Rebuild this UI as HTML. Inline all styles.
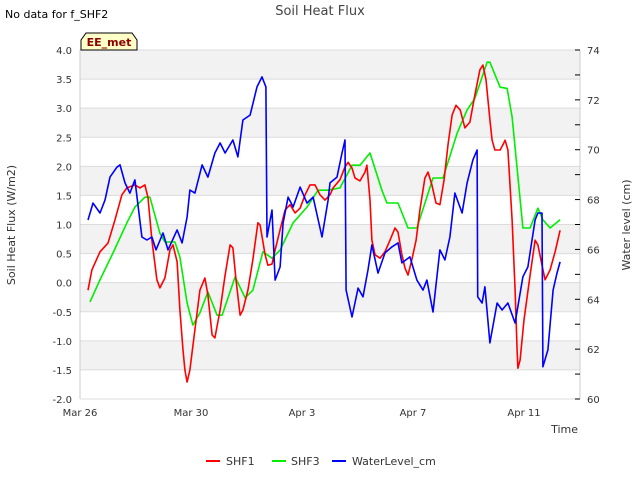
<!DOCTYPE html>
<html><head><meta charset="utf-8"><style>
body{margin:0;background:#fff;font-family:"Liberation Sans","DejaVu Sans",sans-serif}
svg text{font-family:"DejaVu Sans","Liberation Sans",sans-serif}
</style></head><body>
<svg id="chart" width="640" height="480" xmlns="http://www.w3.org/2000/svg">
<text x="5" y="18" font-size="11" fill="#000">No data for f_SHF2</text>
<text x="320" y="15" font-size="13" fill="#444" text-anchor="middle">Soil Heat Flux</text>
<g id="bands"></g>
<g id="axes"></g>
<g id="series"></g>
<path d="M81,50 L81,40 L86,33 L132,33 L137,40 L137,50 Z" fill="#ffffc8" stroke="#000" stroke-width="1"/>
<text x="109" y="46" font-size="11" font-weight="bold" fill="#8b0000" text-anchor="middle">EE_met</text>
<text x="15" y="225" font-size="11" fill="#333" text-anchor="middle" transform="rotate(-90 15 225)">Soil Heat Flux (W/m2)</text>
<text x="630" y="225" font-size="11" fill="#333" text-anchor="middle" transform="rotate(-90 630 225)">Water level (cm)</text>
<text x="578" y="433" font-size="11" fill="#333" text-anchor="end">Time</text>
<g>
<line x1="206" y1="461" x2="220" y2="461" stroke="#ff0000" stroke-width="2"/>
<text x="226" y="465" font-size="11" fill="#333">SHF1</text>
<line x1="272" y1="461" x2="286" y2="461" stroke="#00ee00" stroke-width="2"/>
<text x="291" y="465" font-size="11" fill="#333">SHF3</text>
<line x1="332" y1="461" x2="346" y2="461" stroke="#0000ff" stroke-width="2"/>
<text x="352" y="465" font-size="11" fill="#333">WaterLevel_cm</text>
</g>
</svg>
<script>
const xTickLabels=["Mar 26","Mar 30","Apr 3","Apr 7","Apr 11"];
const xTickDays=[0,4,8,12,16];
const yTicks=[-2,-1.5,-1,-0.5,0,0.5,1,1.5,2,2.5,3,3.5,4];
const y2Ticks=[60,62,64,66,68,70,72,74];
const shf1Days=[0.29,0.43,0.72,1.01,1.26,1.51,1.69,1.98,2.16,2.34,2.45,2.59,2.77,2.88,3.06,3.24,3.35,3.5,3.6,3.71,3.78,3.86,3.96,4.14,4.32,4.5,4.61,4.76,4.86,5.05,5.23,5.41,5.51,5.62,5.77,5.87,6.05,6.23,6.41,6.49,6.67,6.77,6.92,7.03,7.21,7.39,7.57,7.75,7.93,8.11,8.29,8.47,8.65,8.83,9.01,9.12,9.37,9.55,9.66,9.8,9.91,10.09,10.27,10.34,10.45,10.52,10.63,10.81,10.99,11.17,11.35,11.46,11.6,11.71,11.82,11.96,12.11,12.25,12.43,12.54,12.68,12.83,12.97,13.12,13.26,13.41,13.55,13.7,13.87,14.05,14.23,14.41,14.52,14.63,14.77,14.85,14.95,15.14,15.24,15.32,15.42,15.57,15.68,15.75,15.78,15.86,16.0,16.22,16.4,16.5,16.65,16.76,16.94,17.12,17.3];
const shf1Values=[-0.13,0.22,0.53,0.68,1.08,1.51,1.63,1.68,1.63,1.68,1.46,0.73,0.05,-0.09,0.08,0.56,0.65,0.36,-0.47,-1.16,-1.5,-1.71,-1.5,-0.81,-0.13,0.08,-0.21,-0.9,-0.95,-0.47,0.13,0.65,0.6,0.05,-0.56,-0.47,-0.13,0.4,1.03,0.99,0.48,0.3,0.32,0.56,0.91,1.25,1.34,1.2,1.28,1.51,1.68,1.68,1.51,1.42,1.51,1.63,1.77,1.99,2.07,1.97,1.8,1.75,1.9,2.02,1.42,0.73,0.48,0.42,0.53,0.73,0.94,0.87,0.48,0.25,0.13,0.4,0.73,1.25,1.8,1.9,1.68,1.37,1.34,1.77,2.37,2.88,3.05,2.97,2.66,2.76,3.23,3.66,3.74,3.49,2.8,2.45,2.28,2.28,2.37,2.45,2.28,1.08,-0.13,-1.16,-1.47,-1.33,-0.64,0.13,0.73,0.65,0.3,0.05,0.22,0.53,0.9];
const shf3Days=[0.36,0.72,1.19,1.69,1.98,2.34,2.52,2.88,3.06,3.42,3.6,3.86,4.07,4.32,4.61,4.94,5.12,5.59,5.95,6.23,6.59,6.92,7.21,7.68,8.18,8.58,8.94,9.37,9.8,10.09,10.45,10.88,11.06,11.46,11.82,12.14,12.72,13.08,13.59,13.95,14.23,14.67,14.77,15.14,15.39,15.57,15.96,16.22,16.5,16.68,16.94,17.3];
const shf3Values=[-0.33,0.05,0.51,1.03,1.3,1.47,1.47,0.85,0.7,0.7,0.44,-0.35,-0.73,-0.52,-0.16,-0.56,-0.56,0.1,-0.26,-0.13,0.53,0.42,0.56,1.03,1.3,1.59,1.59,1.63,2.02,2.02,2.23,1.59,1.37,1.37,0.94,0.94,1.8,1.8,2.57,2.97,3.17,3.79,3.79,3.36,3.34,2.85,0.94,0.94,1.28,1.08,0.94,1.08];
const waterDays=[0.29,0.47,0.72,0.9,1.08,1.33,1.44,1.62,1.8,1.98,2.23,2.41,2.59,2.74,2.99,3.17,3.5,3.68,3.86,3.96,4.14,4.4,4.61,4.86,5.05,5.23,5.51,5.69,5.87,6.13,6.38,6.56,6.7,6.74,6.92,7.03,7.21,7.32,7.5,7.68,7.93,8.18,8.4,8.72,8.94,9.01,9.26,9.44,9.55,9.59,9.8,10.02,10.2,10.38,10.52,10.74,10.99,11.24,11.46,11.6,11.89,12.14,12.36,12.5,12.72,12.97,13.15,13.33,13.51,13.77,13.95,14.16,14.31,14.33,14.49,14.59,14.77,15.03,15.21,15.42,15.68,15.96,16.14,16.4,16.5,16.65,16.68,16.86,17.05,17.19,17.3];
const waterValues=[67.18,67.86,67.46,67.98,68.9,69.3,69.39,68.67,68.26,68.79,66.5,66.38,66.5,65.98,66.66,65.98,66.78,66.26,67.3,68.38,68.26,69.39,68.9,69.87,70.27,69.87,70.39,69.71,71.19,71.39,72.52,72.92,72.52,66.5,67.58,64.77,65.3,67.06,68.1,67.7,68.5,67.86,68.1,66.5,67.98,68.67,68.9,69.87,70.39,64.37,63.29,64.45,64.1,65.18,66.18,65.05,65.86,66.1,66.26,65.46,65.7,64.77,64.37,64.77,63.49,65.98,65.58,66.5,68.26,67.46,68.67,69.59,69.99,64.1,63.85,64.5,62.25,63.85,63.57,63.85,63.05,64.9,65.3,67.18,67.46,67.46,61.29,61.97,64.37,65.05,65.5];

const NS="http://www.w3.org/2000/svg";
const X0=80,X1=580,Y0=50,Y1=399;
const xs=d=>X0+d*27.75;
const ys=v=>Y0+(4-v)*(Y1-Y0)/6;
const y2s=v=>Y0+(74-v)*(Y1-Y0)/14;
function mk(tag,attrs,parent){const e=document.createElementNS(NS,tag);for(const k in attrs)e.setAttribute(k,attrs[k]);parent.appendChild(e);return e;}
const bands=document.getElementById('bands'),axes=document.getElementById('axes'),series=document.getElementById('series');
mk('rect',{x:X0,y:Y0,width:X1-X0,height:Y1-Y0,fill:'#fff'},bands);
for(let i=0;i<yTicks.length-1;i++){
  const lo=yTicks[i],hi=yTicks[i+1];
  if(Math.round(hi*2)%2===0){
    const r=mk('rect',{x:X0,y:ys(hi),width:X1-X0,height:ys(lo)-ys(hi),fill:'#f2f2f2'},bands);
    
    
  }
}
yTicks.forEach(v=>{
  const l=mk('line',{x1:X0,x2:X1,y1:ys(v),y2:ys(v),stroke:'#dcdcdc','stroke-width':1},axes);
  
  
  const t=mk('text',{x:72,y:ys(v)+4,'font-size':10,fill:'#333','text-anchor':'end'},axes);
  t.textContent=v.toFixed(1);
  
  
});
mk('line',{x1:X0,x2:X0,y1:Y0,y2:Y1,stroke:'#ccc'},axes);
mk('line',{x1:X1,x2:X1,y1:Y0,y2:Y1,stroke:'#ccc'},axes);
for(let v=60;v<=74;v++){
  const tk=mk('line',{x1:X1-5,x2:X1,y1:y2s(v),y2:y2s(v),stroke:'#000'},axes);
  
  
}
y2Ticks.forEach(v=>{
  const t=mk('text',{x:587,y:y2s(v)+4,'font-size':10,fill:'#333'},axes);
  t.textContent=v;
  
  
});
xTickDays.forEach((d,i)=>{
  const t=mk('text',{x:xs(d),y:416,'font-size':10,fill:'#333','text-anchor':'middle'},axes);
  t.textContent=xTickLabels[i];
  
  
});
function line(days,vals,sc,color,name){
  const d=days.map((x,i)=>(i?'L':'M')+xs(x).toFixed(1)+','+sc(vals[i]).toFixed(1)).join(' ');
  const p=mk('path',{d:d,fill:'none',stroke:color,'stroke-width':1.6,'stroke-linejoin':'round'},series);
  
  
}
line(shf3Days,shf3Values,ys,'#00ee00','shf3-line');
line(shf1Days,shf1Values,ys,'#ff0000','shf1-line');
line(waterDays,waterValues,y2s,'#0000ff','waterlevel-line');
</script>
</body></html>
